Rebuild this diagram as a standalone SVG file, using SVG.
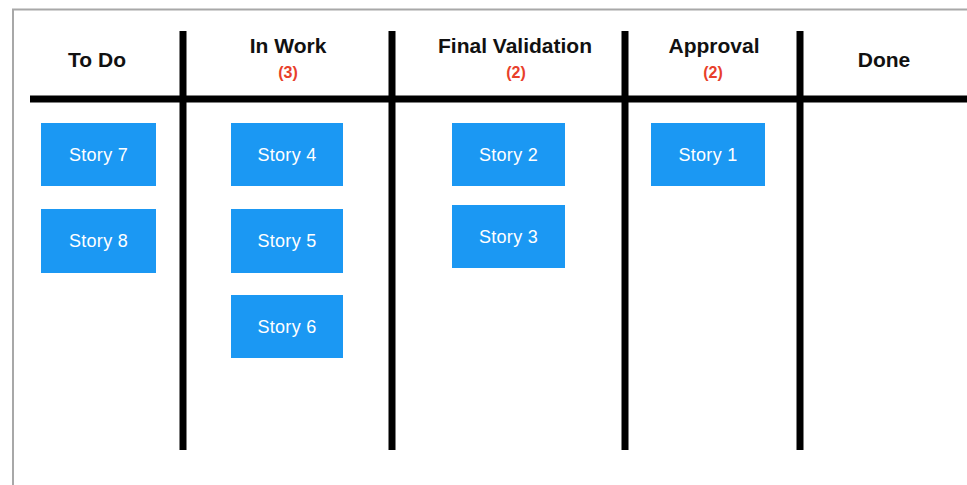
<svg xmlns="http://www.w3.org/2000/svg" width="967" height="485" viewBox="0 0 967 485">
  <style>
    .hdr { font-family: "Liberation Sans", Arial, sans-serif; font-weight: bold; font-size: 21px; fill: #111; text-anchor: middle; }
    .cnt { font-family: "Liberation Sans", Arial, sans-serif; font-weight: bold; font-size: 16px; fill: #e8402a; text-anchor: middle; }
    .card rect { fill: #1b98f3; }
    .card text { font-family: "Liberation Sans", Arial, sans-serif; font-size: 18px; fill: #ffffff; text-anchor: middle; letter-spacing: 0.3px; }
    .rule { stroke: #000; stroke-width: 7; }
  </style>
  <rect x="0" y="0" width="967" height="485" fill="#ffffff"/>
  <path d="M13 485 V9.5 H967" fill="none" stroke="#a8a8a8" stroke-width="2"/>

  <g id="connectors">
    <line class="rule" x1="30" y1="99" x2="967" y2="99"/>
    <line class="rule" x1="183" y1="31" x2="183" y2="450"/>
    <line class="rule" x1="392" y1="31" x2="392" y2="450"/>
    <line class="rule" x1="625" y1="31" x2="625" y2="450"/>
    <line class="rule" x1="800" y1="31" x2="800" y2="450"/>
  </g>

  <g id="col-todo"><text class="hdr" x="97" y="67">To Do</text></g>
  <g id="col-inwork"><text class="hdr" x="288" y="53">In Work</text><text class="cnt" x="288" y="78">(3)</text></g>
  <g id="col-final"><text class="hdr" x="515" y="53">Final Validation</text><text class="cnt" x="516" y="78">(2)</text></g>
  <g id="col-approval"><text class="hdr" x="714" y="53">Approval</text><text class="cnt" x="713" y="78">(2)</text></g>
  <g id="col-done"><text class="hdr" x="884" y="67">Done</text></g>

  <g id="story7" class="card"><rect x="41" y="123" width="115" height="63"/><text x="98.5" y="161">Story 7</text></g>
  <g id="story8" class="card"><rect x="41" y="209" width="115" height="64"/><text x="98.5" y="247">Story 8</text></g>
  <g id="story4" class="card"><rect x="231" y="123" width="112" height="63"/><text x="287" y="161">Story 4</text></g>
  <g id="story5" class="card"><rect x="231" y="209" width="112" height="64"/><text x="287" y="247">Story 5</text></g>
  <g id="story6" class="card"><rect x="231" y="295" width="112" height="63"/><text x="287" y="333">Story 6</text></g>
  <g id="story2" class="card"><rect x="452" y="123" width="113" height="63"/><text x="508.5" y="161">Story 2</text></g>
  <g id="story3" class="card"><rect x="452" y="205" width="113" height="63"/><text x="508.5" y="243">Story 3</text></g>
  <g id="story1" class="card"><rect x="651" y="123" width="114" height="63"/><text x="708" y="161">Story 1</text></g>
</svg>
